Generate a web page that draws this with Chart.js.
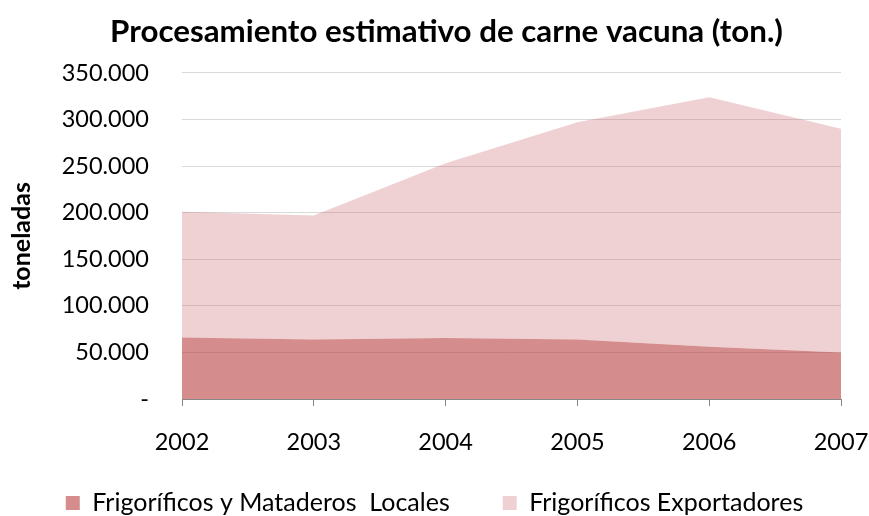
<!DOCTYPE html>
<html>
<head>
<meta charset="utf-8">
<script src="https://cdn.jsdelivr.net/npm/chart.js@4/dist/chart.umd.min.js"></script>
<style>
html,body{margin:0;padding:0;background:#fff;}
#wrap{width:869px;height:516px;position:relative;}
</style>
</head>
<body>
<div id="wrap"><canvas id="chart" width="869" height="516"></canvas></div>
<script>
const chartTitle = 'Procesamiento estimativo de carne vacuna (ton.)';
const yAxisTitle = 'toneladas';
const years = ['2002', '2003', '2004', '2005', '2006', '2007'];
const seriesNames = ['Frigoríficos y Mataderos  Locales', 'Frigoríficos Exportadores'];
const locales = [66000, 64000, 65500, 64000, 56000, 50000];
const exportadores = [135000, 133000, 187500, 233000, 268000, 240000];
const yTicks = [0, 50000, 100000, 150000, 200000, 250000, 300000, 350000];

const FONT = 'Lato';

function fmt(v) {
  if (v === 0) return '-';
  return String(Math.round(v)).replace(/\B(?=(\d{3})+(?!\d))/g, '.');
}

const placePlugin = {
  id: 'place',
  afterLayout(chart) {
    const t = chart.titleBlock;
    if (t) { t.left = 24; t.right = 869; }
    const lg = chart.legend;
    if (lg) {
      lg.left = 0; lg.right = 869;
      lg.top = 490.5 - lg.options.labels.padding;
    }
  }
};

new Chart(document.getElementById('chart'), {
  type: 'line',
  data: {
    labels: years,
    datasets: [
      {
        label: seriesNames[0],
        data: locales,
        backgroundColor: 'rgba(183,65,63,0.6)',
        borderColor: 'rgba(183,65,63,0.6)',
        borderWidth: 0,
        pointRadius: 0,
        tension: 0,
        fill: 'origin'
      },
      {
        label: seriesNames[1],
        data: exportadores,
        backgroundColor: 'rgba(202,102,108,0.3)',
        borderColor: 'rgba(202,102,108,0.3)',
        borderWidth: 0,
        pointRadius: 0,
        tension: 0,
        fill: '-1'
      }
    ]
  },
  options: {
    responsive: false,
    animation: false,
    devicePixelRatio: 1,
    layout: { padding: { left: 0, right: 0, top: 0, bottom: 0 } },
    plugins: {
      title: {
        display: true,
        text: chartTitle,
        color: '#000',
        font: { family: FONT, size: 31.3, weight: 'bold' },
        padding: { top: 13.2, bottom: 22.2 }
      },
      legend: {
        display: true,
        position: 'bottom',
        maxHeight: 30,
        labels: {
          color: '#000',
          font: { family: FONT, size: 25 },
          boxWidth: 14,
          boxHeight: 14,
          padding: 53
        }
      },
      tooltip: { enabled: false }
    },
    scales: {
      x: {
        type: 'category',
        offset: false,
        grid: {
          display: true,
          drawOnChartArea: false,
          drawTicks: true,
          tickLength: 7,
          color: '#868686'
        },
        border: { display: true, color: '#868686', width: 1 },
        ticks: {
          color: '#000',
          font: { family: FONT, size: 23.5 },
          padding: 22,
          maxRotation: 0,
          autoSkip: false
        },
        afterFit(s) {
          s.height = s.chart.height - 399 - s.chart.legend.height;
          s.paddingRight = 28;
        }
      },
      y: {
        stacked: true,
        min: 0,
        max: 350000,
        grid: { color: '#d9d9d9', lineWidth: 1, drawTicks: false },
        border: { display: false },
        afterBuildTicks(s) { s.ticks = yTicks.map(v => ({ value: v })); },
        ticks: {
          color: '#000',
          font: { family: FONT, size: 23.5 },
          padding: 33,
          callback: (v) => fmt(v)
        },
        title: {
          display: true,
          text: yAxisTitle,
          color: '#000',
          font: { family: FONT, size: 25, weight: 'bold' },
          padding: { top: 7, bottom: 0 }
        },
        afterFit(s) { s.width = 182; }
      }
    }
  },
  plugins: [placePlugin]
});
</script>
</body>
</html>
